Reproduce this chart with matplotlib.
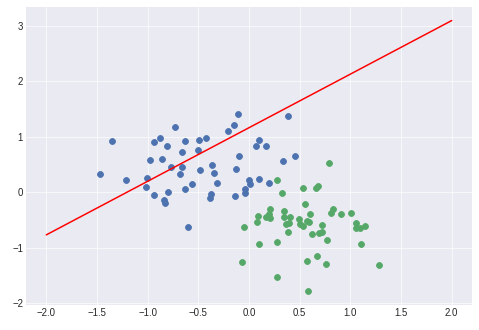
import numpy as np
import matplotlib
matplotlib.use("Agg")
from matplotlib import pyplot as plt

plt.style.use("seaborn-v0_8-darkgrid")

## class 0 (blue) points
blue_x = [-1.471, -1.350, -1.212, -1.011, -1.015, -0.975, -0.936, -0.877, -0.936, -0.857,
          -0.808, -0.798, -0.837, -0.828, -0.768, -0.729, -0.680, -0.663, -0.660, -0.631,
          -0.631, -0.601, -0.562, -0.502, -0.493, -0.483, -0.424, -0.384, -0.374, -0.365,
          -0.345, -0.315, -0.207, -0.148, -0.138, -0.128, -0.108, -0.099, -0.039, -0.039,
          0.000, 0.010, 0.069, 0.099, 0.099, 0.167, 0.197, 0.335, 0.384, 0.453]
blue_y = [0.332, 0.912, 0.224, 0.248, 0.085, 0.586, 0.894, 0.967, -0.048, 0.604,
          0.822, 0.006, -0.133, -0.193, 0.459, 1.166, 0.332, 0.731, 0.447, 0.912,
          0.060, -0.628, 0.151, 0.767, 0.930, 0.405, 0.967, -0.097, -0.030, 0.495,
          0.350, 0.169, 1.094, 1.202, -0.066, 0.423, 1.402, 0.659, 0.060, -0.012,
          0.224, 0.151, 0.822, 0.930, 0.242, 0.822, 0.169, 0.568, 1.366, 0.659]

## class 1 (green) points
green_x = [-0.049, -0.069, 0.079, 0.089, 0.099, 0.167, 0.197, 0.207, 0.207, 0.276,
           0.276, 0.276, 0.325, 0.345, 0.345, 0.365, 0.384, 0.394, 0.404, 0.493,
           0.502, 0.532, 0.532, 0.552, 0.571, 0.571, 0.581, 0.591, 0.601, 0.621,
           0.660, 0.680, 0.670, 0.690, 0.719, 0.719, 0.759, 0.768, 0.788, 0.808,
           0.828, 0.906, 1.005, 1.054, 1.054, 1.094, 1.103, 1.143, 1.281]
green_y = [-0.628, -1.263, -0.538, -0.429, -0.937, -0.447, -0.393, -0.302, -0.465, 0.224,
           -0.900, -1.535, -0.012, -0.338, -0.447, -0.574, -0.719, -0.556, -0.447, -0.483,
           -0.574, 0.079, -0.610, -0.211, -0.520, -1.245, -1.789, -0.538, -0.393, -0.755,
           0.079, 0.115, -1.154, -0.737, -0.592, -0.719, -1.299, -0.864, 0.532, -0.375,
           -0.302, -0.393, -0.375, -0.556, -0.647, -0.647, -0.937, -0.610, -1.317]

## decision line
line_x = [-2.0, 2.0]
line_y = [-0.77, 3.09]

fig = plt.figure(figsize=(479/60, 330/60), dpi=60)
ax = fig.add_axes([26/479, 25/330, 446/479, 298/330])

ax.scatter(blue_x, blue_y, s=50, color='#4C72B0')
ax.scatter(green_x, green_y, s=50, color='#55A868')
ax.plot(line_x, line_y, color='red', lw=1.8)

ax.tick_params(labelsize=11.5, labelcolor='.15')

fig.savefig('out.png', dpi=60)
